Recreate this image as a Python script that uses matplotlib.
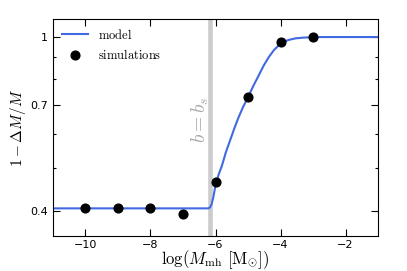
import numpy as np
import matplotlib
matplotlib.use("Agg")
import matplotlib.pyplot as plt
from matplotlib.ticker import FixedLocator, NullFormatter

plt.rcParams["mathtext.fontset"] = "cm"

# model curve (log M_mh, 1 - dM/M)
model_x = [-11.0, -6.22, -6.17, -6.12, -6.06, -5.99, -5.90, -5.80, -5.68,
           -5.55, -5.42, -5.29, -5.15, -5.00, -4.84, -4.67, -4.52, -4.36,
           -4.20, -4.05, -3.90, -3.75, -3.54, -3.30, -3.02, -2.7, -1.0]
model_y = [0.405, 0.405, 0.407, 0.414, 0.432, 0.462, 0.485, 0.508, 0.545,
           0.580, 0.618, 0.655, 0.692, 0.728, 0.772, 0.817, 0.860, 0.900,
           0.934, 0.958, 0.975, 0.985, 0.993, 0.997, 0.999, 1.0, 1.0]

# simulation points
sim_x = [-10, -9, -8, -7, -6, -5, -4, -3]
sim_y = [0.406, 0.406, 0.406, 0.394, 0.466, 0.728, 0.975, 0.998]

b_s = -6.17

yticks_major = [0.4, 0.7, 1.0]
ytick_labels = ["0.4", "0.7", "1"]
yticks_minor = [0.5, 0.6, 0.8, 0.9]
xticks = [-10, -8, -6, -4, -2]

fig = plt.figure(figsize=(4.07, 2.71), dpi=100)
ax = fig.add_axes([0.130, 0.129, 0.799, 0.801])

ax.axvline(b_s, color="#cccccc", lw=3.3, zorder=1)
ax.text(b_s - 0.3, 0.645, r"$b = b_s$", rotation=90, color="#aaaaaa",
        fontsize=14, ha="center", va="center")

ax.plot(model_x, model_y, color="#4169e1", lw=1.5, label=r"$\mathrm{model}$", zorder=2)
ax.plot(sim_x, sim_y, "o", color="black", ms=6.3, label=r"$\mathrm{simulations}$", zorder=3)

ax.set_yscale("log")
ax.set_xlim(-11, -1)
ax.set_ylim(0.35, 1.1)
ax.yaxis.set_major_locator(FixedLocator(yticks_major))
ax.set_yticklabels(ytick_labels)
ax.yaxis.set_minor_locator(FixedLocator(yticks_minor))
ax.yaxis.set_minor_formatter(NullFormatter())
ax.set_xticks(xticks)

ax.tick_params(which="both", direction="in", top=True, right=True, labelsize=8)
ax.tick_params(which="major", length=5, width=0.8)
ax.tick_params(which="minor", length=2.5, width=0.8)
ax.tick_params(axis="x", pad=2.5)

ax.set_xlabel(r"$\log(M_{\rm mh}\ [{\rm M}_{\odot}])$", fontsize=12, labelpad=-1)
ax.set_ylabel(r"$1 - \Delta M/M$", fontsize=11, labelpad=2)

ax.legend(loc="upper left", frameon=False, fontsize=9, numpoints=1,
          handlelength=2.1, borderaxespad=0.3, labelspacing=0.5)

fig.savefig("out.png", dpi=100)
